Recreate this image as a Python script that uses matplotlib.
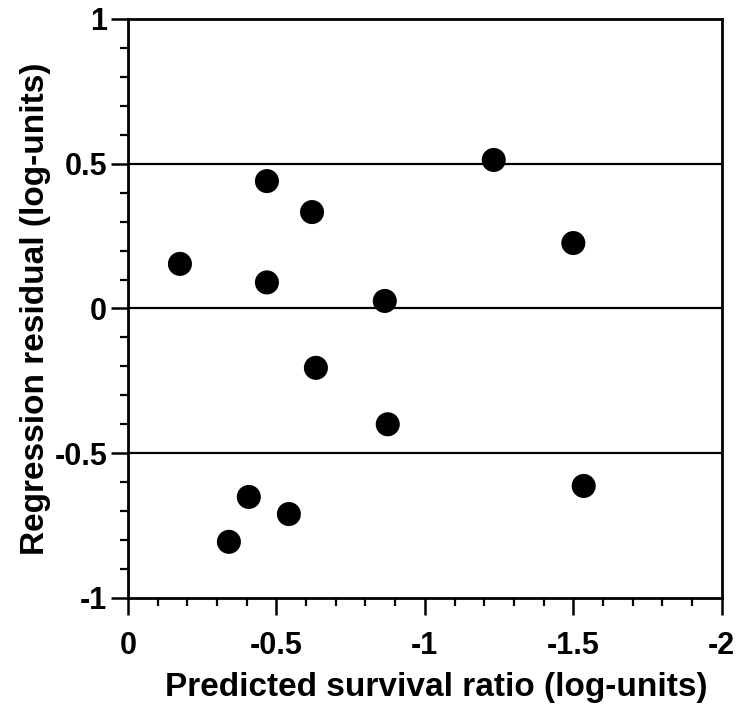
import matplotlib.pyplot as plt
from matplotlib.ticker import MultipleLocator

# predicted survival ratio (x) and regression residual (y), log-units
predicted = [-0.175, -0.468, -0.468, -0.62, -0.865, -0.633, -0.875,
             -1.232, -1.50, -1.535, -0.34, -0.407, -0.542]
residual = [0.154, 0.44, 0.09, 0.333, 0.026, -0.205, -0.40,
            0.513, 0.226, -0.613, -0.806, -0.651, -0.71]
ref_lines = [0.5, 0.0, -0.5]
x_ticks = [0, -0.5, -1, -1.5, -2]
x_tick_labels = ['0', '-0.5', '-1', '-1.5', '-2']
y_ticks = [-1, -0.5, 0, 0.5, 1]
y_tick_labels = ['-1', '-0.5', '0', '0.5', '1']

plt.rcParams['font.family'] = ['Liberation Sans', 'DejaVu Sans']
plt.rcParams['font.weight'] = 'bold'

fig = plt.figure(figsize=(7.38, 7.13), dpi=100)
ax = fig.add_axes([0.1734, 0.1613, 0.8046, 0.8121])

for y in ref_lines:
    ax.axhline(y, color='black', linewidth=1.6, zorder=1)

ax.scatter(predicted, residual, s=300, color='black', edgecolors='none', zorder=3)

ax.set_xlim(0, -2)
ax.set_ylim(-1, 1)
ax.set_xticks(x_ticks)
ax.set_xticklabels(x_tick_labels)
ax.set_yticks(y_ticks)
ax.set_yticklabels(y_tick_labels)
ax.xaxis.set_minor_locator(MultipleLocator(0.1))
ax.yaxis.set_minor_locator(MultipleLocator(0.1))

ax.tick_params(which='major', direction='out', length=12, width=1.8,
               labelsize=22, top=False, right=False)
ax.tick_params(which='minor', direction='out', length=6, width=1.6,
               top=False, right=False)
ax.tick_params(axis='x', which='major', pad=12)
ax.tick_params(axis='y', which='major', pad=3)

for side in ['left', 'bottom', 'top', 'right']:
    ax.spines[side].set_linewidth(2)

ax.set_xlabel('Predicted survival ratio (log-units)', fontsize=24,
              fontweight='bold')
ax.xaxis.set_label_coords(0.52, -0.128)
ax.set_ylabel('Regression residual (log-units)', fontsize=24,
              fontweight='bold', labelpad=2)

plt.savefig('out.png', dpi=100)
